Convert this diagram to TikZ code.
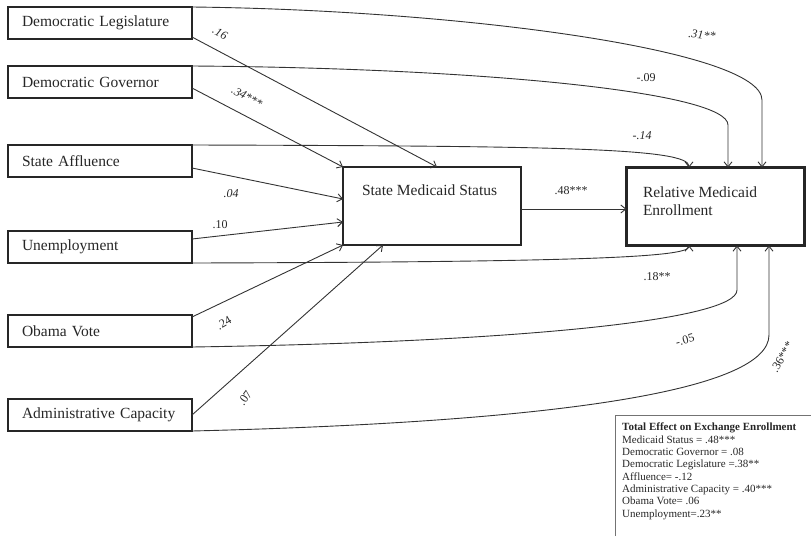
\documentclass[tikz,border=0pt]{standalone}
\usepackage{fontspec}
\setmainfont{Liberation Serif}
\usetikzlibrary{arrows.meta}

\begin{document}
\begin{tikzpicture}[
    x=1pt, y=-1pt,
    every node/.style={text=black!85},
    var box/.style={draw=black!85, line width=2.6pt, minimum height=32pt, text width=156pt, inner xsep=14pt, inner ysep=0pt, align=left, outer sep=0pt, font=\fontsize{15.5}{18}\selectfont},
    main box/.style={draw=black!85, line width=2.6pt, minimum width=178pt, minimum height=78pt, inner sep=0pt, outer sep=0pt, font=\fontsize{15.5}{18}\selectfont},
    path arrow/.style={draw=black!80, line width=0.9pt, -{Straight Barb[length=5pt,width=8pt]}},
    coef/.style={font=\fontsize{12}{14}\selectfont, inner sep=1pt},
    coef it/.style={coef, font=\fontsize{12}{14}\selectfont\itshape},
    legend frame/.style={draw=black!55, line width=0.8pt},
    ]
\useasboundingbox (0,0) rectangle (811,536);
% exogenous variables
\node[var box] (leg) at (100,23) {Democratic Legislature};
\node[var box] (gov) at (100,82) {Democratic Governor};
\node[var box] (aff) at (100,161) {State Affluence};
\node[var box] (unemp) at (100,247) {Unemployment};
\node[var box] (obama) at (100,331) {Obama Vote};
\node[var box] (admin) at (100,415) {Administrative Capacity};
% mediator and outcome
\node[main box] (status) at (432,206) {\parbox[c][72pt][t]{140pt}{\vspace*{15pt}State Medicaid Status}};
\node[main box] (rel) at (715.5,206.5) {\parbox[c][72pt][t]{145pt}{\vspace*{16pt}Relative Medicaid\\Enrollment}};
% paths to state medicaid status
\draw[path arrow] ([yshift=2pt]leg.south east) -- ([xshift=5pt]status.north);
\draw[path arrow] ([yshift=-6pt]gov.east) -- (status.north west);
\draw[path arrow] ([yshift=-7pt]aff.east) -- ([yshift=7pt]status.west);
\draw[path arrow] ([yshift=8pt]unemp.east) -- ([yshift=-16pt]status.west);
\draw[path arrow] ([yshift=-2pt]obama.north east) -- (status.south west);
\draw[path arrow] (admin.east) -- ([xshift=40pt]status.south west);
\draw[path arrow] ([yshift=-3pt]status.east) -- ([yshift=-3pt]status.east -| rel.west);
% direct paths to relative enrollment
\draw[path arrow] (leg.north east) .. controls (460,10) and (762,50) .. (762,100) -- ([xshift=135.5pt]rel.north west);
\draw[path arrow] (gov.north east) .. controls (480,68) and (728,92) .. (728,125) -- ([xshift=101.5pt]rel.north west);
\draw[path arrow] (aff.north east) .. controls (560,146) and (689,148) .. ([xshift=62.5pt]rel.north west);
\draw[path arrow] (unemp.south east) .. controls (560,262) and (689,258) .. ([xshift=62.5pt]rel.south west);
\draw[path arrow] (obama.south east) .. controls (520,342) and (737,320) .. (737,290) -- ([xshift=110.5pt]rel.south west);
\draw[path arrow] (admin.south east) .. controls (560,422) and (769,390) .. (769,335) -- ([xshift=142.5pt]rel.south west);
% coefficients
\node[coef it, rotate=-28] (cLegStat) at (220,33) {.16};
\node[coef it, rotate=-28] (cGovStat) at (247,97) {.34***};
\node[coef it] (cAffStat) at (231,194) {.04};
\node[coef] (cUnempStat) at (220,225) {.10};
\node[coef, rotate=30] (cObamaStat) at (224,323) {.24};
\node[coef, rotate=55] (cAdminStat) at (245,398) {.07};
\node[coef] (cStatRel) at (571,191) {.48***};
\node[coef it, rotate=-6] (cLegRel) at (702,35) {.31**};
\node[coef] (cGovRel) at (646,78) {-.09};
\node[coef it] (cAffRel) at (642,136) {-.14};
\node[coef] (cUnempRel) at (657,277) {.18**};
\node[coef, rotate=15] (cObamaRel) at (685,340) {-.05};
\node[coef, rotate=60] (cAdminRel) at (782,357) {.36***};
% total effects
\draw[legend frame] (615,536) -- (615,415) -- (811,415);
\node[anchor=north west, inner sep=0pt, align=left, font=\fontsize{11}{12.3}\selectfont] (total) at (622,423) {\textbf{Total Effect on Exchange Enrollment}\\Medicaid Status = .48***\\Democratic Governor = .08\\Democratic Legislature =.38**\\Affluence= -.12\\Administrative Capacity = .40***\\Obama Vote= .06\\Unemployment=.23**};
\end{tikzpicture}
\end{document}
